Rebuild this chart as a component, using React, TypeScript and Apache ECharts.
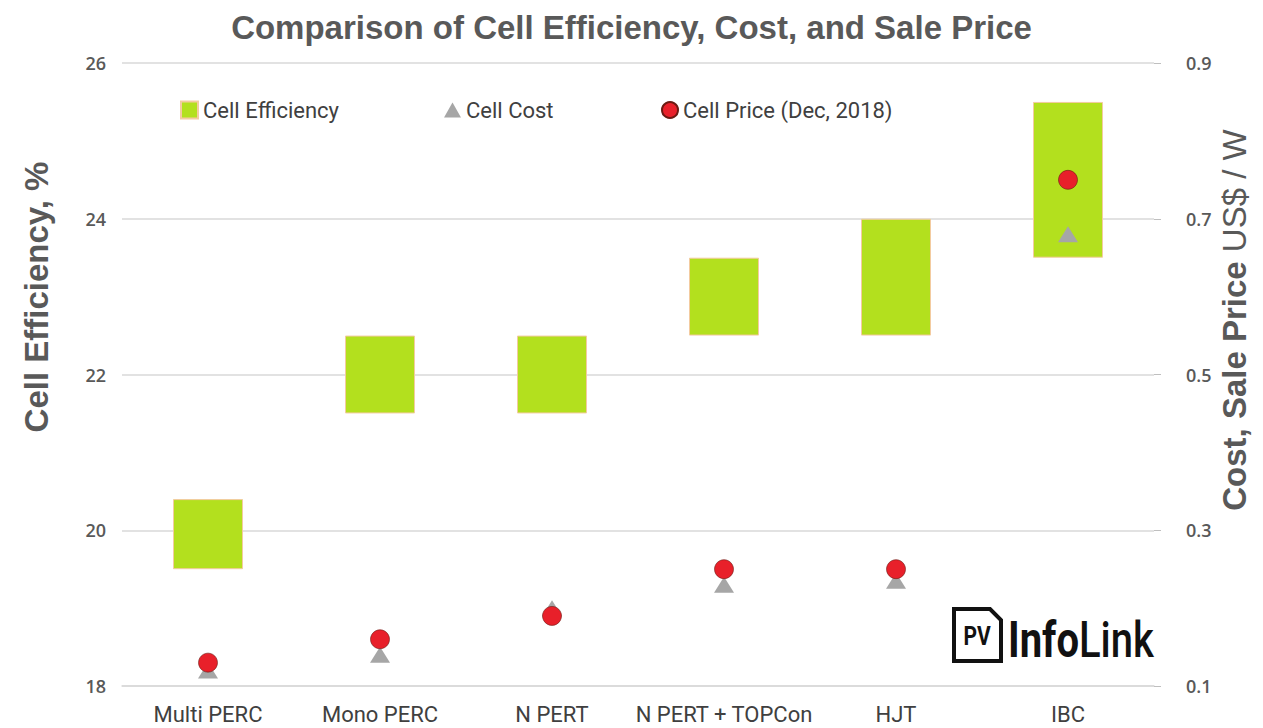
import React, { useEffect, useRef } from "react";
import * as echarts from "echarts";

const categories = ["Multi PERC", "Mono PERC", "N PERT", "N PERT + TOPCon", "HJT", "IBC"];
const effLow = [19.5, 21.5, 21.5, 22.5, 22.5, 23.5];
const effHigh = [20.4, 22.5, 22.5, 23.5, 24.0, 25.5];
const cellCost = [0.12, 0.14, 0.2, 0.23, 0.235, 0.68];
const cellPrice = [0.13, 0.16, 0.19, 0.25, 0.25, 0.75];

const FONT = "'Open Sans', sans-serif";
const LABEL_FONT = "Roboto, sans-serif";
const ARIAL = "'Liberation Sans', Arial, sans-serif";
const GREEN = "#B3E01E";
const RED = "#E8202A";
const GRAY = "#A6A6A6";

export default function App() {
  const ref = useRef<HTMLDivElement>(null);
  useEffect(() => {
    if (!ref.current) return;
    const chart = echarts.init(ref.current, undefined, { renderer: "svg" });
    const legendText = { color: "#404040", fontSize: 22, fontFamily: LABEL_FONT };
    chart.setOption({
      animation: false,
      backgroundColor: "#ffffff",
      title: {
        text: "Comparison of Cell Efficiency, Cost, and Sale Price",
        left: "center",
        top: 6,
        textStyle: { color: "#595959", fontSize: 33, fontWeight: "bold", fontFamily: ARIAL },
      },
      legend: [
        { data: [{ name: "Cell Efficiency", icon: "rect" }], left: 180, top: 99, padding: 0, itemWidth: 17, itemHeight: 17, itemGap: 5, textStyle: legendText },
        { data: [{ name: "Cell Cost", icon: "triangle" }], left: 444, top: 99, padding: 0, itemWidth: 17, itemHeight: 15, textStyle: legendText },
        { data: [{ name: "Cell Price (Dec, 2018)", icon: "circle" }], left: 661, top: 99, padding: 0, itemWidth: 16, itemHeight: 16, textStyle: legendText },
      ],
      grid: { left: 122, right: 109, top: 63, bottom: 42, containLabel: false },
      xAxis: {
        type: "category",
        data: categories,
        axisLine: { lineStyle: { color: "#D9D9D9", width: 1.5 } },
        axisTick: { show: false },
        axisLabel: { color: "#404040", fontSize: 22, fontFamily: LABEL_FONT, margin: 17, interval: 0 },
      },
      yAxis: [
        {
          type: "value",
          min: 18,
          max: 26,
          interval: 2,
          axisLine: { show: false },
          axisTick: { show: false },
          splitLine: { lineStyle: { color: "#D9D9D9", width: 1.5 } },
          axisLabel: { color: "#595959", fontSize: 18, fontFamily: FONT, fontWeight: 600, margin: 16 },
        },
        {
          type: "value",
          min: 0.1,
          max: 0.9,
          interval: 0.2,
          position: "right",
          axisLine: { show: false },
          axisTick: { show: true, length: 7, lineStyle: { color: "#BFBFBF" } },
          splitLine: { show: false },
          axisLabel: {
            color: "#595959",
            fontSize: 18,
            fontFamily: FONT,
            fontWeight: 600,
            margin: 32,
            formatter: (v: number) => v.toFixed(1),
          },
        },
      ],
      graphic: [
        {
          type: "text",
          x: 36,
          y: 297,
          rotation: Math.PI / 2,
          style: {
            text: "Cell Efficiency, %",
            fill: "#595959",
            font: "bold 33px 'Liberation Sans', Arial, sans-serif",
            align: "center",
            verticalAlign: "middle",
          },
        },
        {
          type: "text",
          x: 1234,
          y: 320,
          rotation: Math.PI / 2,
          style: {
            text: "{b|Cost, Sale Price }{n|US$ / W}",
            align: "center",
            verticalAlign: "middle",
            rich: {
              b: { fill: "#595959", fontSize: 33, fontWeight: "bold", fontFamily: ARIAL },
              n: { fill: "#595959", fontSize: 33, fontFamily: ARIAL },
            },
          },
        },
        {
          type: "polygon",
          shape: { points: [[954, 609], [990, 609], [1001, 620], [1001, 661], [954, 661]] },
          style: { fill: "#ffffff", stroke: "#111111", lineWidth: 4, lineJoin: "miter" },
        },
        {
          type: "text",
          x: 977,
          y: 636,
          scaleY: 1.2,
          style: { text: "PV", fill: "#111111", font: "bold 21px Roboto, sans-serif", align: "center", verticalAlign: "middle" },
        },
        {
          type: "text",
          x: 1008,
          y: 640,
          scaleY: 1.25,
          style: {
            text: "{a|Info}{b|Link}",
            verticalAlign: "middle",
            rich: {
              a: { fill: "#111111", fontSize: 40, fontWeight: "bold", fontFamily: LABEL_FONT },
              b: { fill: "#111111", fontSize: 40, fontWeight: 500, fontFamily: LABEL_FONT },
            },
          },
        },
      ],
      series: [
        {
          name: "base",
          type: "bar",
          stack: "eff",
          data: effLow,
          barWidth: 70,
          itemStyle: { color: "transparent" },
          silent: true,
        },
        {
          name: "Cell Efficiency",
          type: "bar",
          stack: "eff",
          data: effHigh.map((h, i) => +(h - effLow[i]).toFixed(3)),
          barWidth: 70,
          itemStyle: { color: GREEN, borderColor: "#F3CBA0", borderWidth: 1 },
        },
        {
          name: "Cell Cost",
          type: "scatter",
          yAxisIndex: 1,
          data: cellCost,
          symbol: "triangle",
          symbolSize: [20, 16],
          itemStyle: { color: GRAY, opacity: 1 },
        },
        {
          name: "Cell Price (Dec, 2018)",
          type: "scatter",
          yAxisIndex: 1,
          data: cellPrice,
          symbol: "circle",
          symbolSize: 19,
          itemStyle: { color: RED, borderColor: "#6b1a12", borderWidth: 0.6, opacity: 1 },
        },
      ],
    });
    return () => chart.dispose();
  }, []);
  return <div ref={ref} style={{ position: "absolute", left: 0, top: 0, width: 1263, height: 728 }} />;
}
